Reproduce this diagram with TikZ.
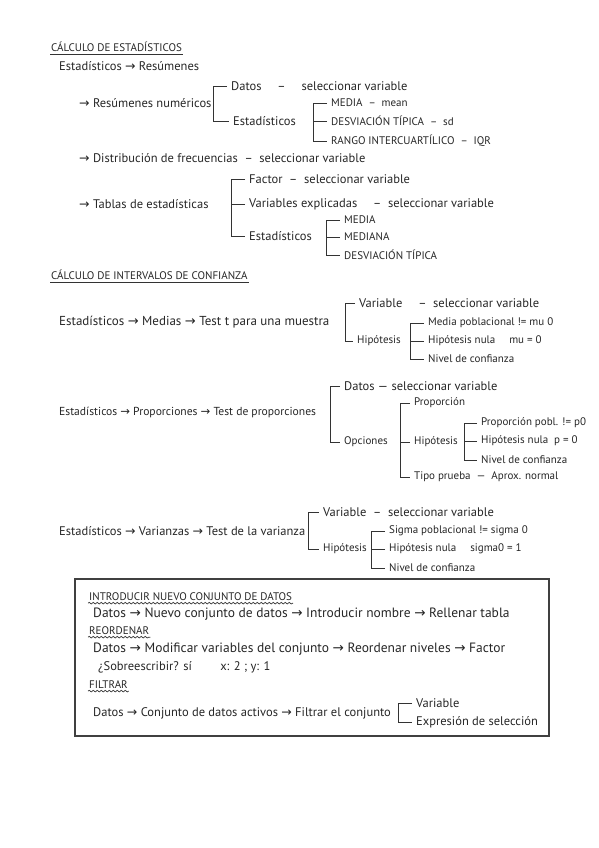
\documentclass[tikz,border=0pt]{standalone}
\usepackage{fontspec}
\setmainfont{PT Sans}
\newfontfamily\symfont{DejaVu Sans}
\usetikzlibrary{positioning, decorations.pathmorphing}

\newcommand{\flecha}{{\symfont →}\ }

\begin{document}
\begin{tikzpicture}[
  x=1pt, y=-1pt,
  txt/.style={
    anchor=west, inner sep=1pt,
    font=\fontsize{12.5}{14}\selectfont, text=black!85
  },
  grande/.style={txt, font=\fontsize{13.5}{15}\selectfont},
  chico/.style={txt, font=\fontsize{11}{13}\selectfont},
  titulo/.style={txt, font=\fontsize{11}{13}\selectfont},
  brk/.style={draw=black!80, line width=0.7pt},
  onda/.style={brk, decorate, decoration={snake, amplitude=0.8pt, segment length=4pt}},
  caja/.style={draw=black!75, line width=1.1pt}
]
  \useasboundingbox (0,0) rectangle (599,848);

  % calculo de estadisticos
  \node[titulo] (t1) at (50,47) {CÁLCULO DE ESTADÍSTICOS};
  \draw[brk] ([yshift=-1pt]t1.south west) -- ([yshift=-1pt]t1.south east);
  \node[txt] (er) at (58,66) {Estadísticos \flecha Resúmenes};

  \node[txt] (rn) at (78,103) {\flecha Resúmenes numéricos};
  \node[txt] (dt) at (230,86) {Datos \quad – \quad seleccionar variable};
  \node[txt] (es) at (232,121) {Estadísticos};
  \draw[brk] ([xshift=-3pt]dt.west) -- ++(-14pt,0) |- ([xshift=-3pt]es.west);

  \node[chico] (me) at (330,103) {MEDIA \ – \ mean};
  \node[chico] (dv) at (330,121) {DESVIACIÓN TÍPICA \ – \ sd};
  \node[chico] (ri) at (330,141) {RANGO INTERCUARTÍLICO \ – \ IQR};
  \draw[brk] ([xshift=-3pt]me.west) -- ++(-14pt,0) |- ([xshift=-3pt]ri.west);
  \draw[brk] ([xshift=-3pt]dv.west) -- ++(-14pt,0);

  \node[txt] (df) at (78,158) {\flecha Distribución de frecuencias \ – \ seleccionar variable};

  \node[txt] (tb) at (78,204) {\flecha Tablas de estadísticas};
  \node[txt] (fa) at (248,179) {Factor \ – \ seleccionar variable};
  \node[txt] (ve) at (248,204) {Variables explicadas \quad – \ seleccionar variable};
  \node[txt] (e2) at (248,236) {Estadísticos};
  \draw[brk] ([xshift=-3pt]fa.west) -- ++(-14pt,0) |- ([xshift=-3pt]e2.west);
  \draw[brk] ([xshift=-3pt]ve.west) -- ++(-14pt,0);

  \node[chico] (m2) at (343,220) {MEDIA};
  \node[chico] (mn) at (343,237) {MEDIANA};
  \node[chico] (d2) at (343,255) {DESVIACIÓN TÍPICA};
  \draw[brk] ([xshift=-3pt]m2.west) -- ++(-14pt,0) |- ([xshift=-3pt]d2.west);
  \draw[brk] ([xshift=-3pt]mn.west) -- ++(-14pt,0);

  % intervalos de confianza
  \node[titulo] (t2) at (50,275) {CÁLCULO DE INTERVALOS DE CONFIANZA};
  \draw[brk] ([yshift=-1pt]t2.south west) -- ([yshift=-1pt]t2.south east);

  \node[txt, font=\fontsize{13}{15}\selectfont] (mt) at (58,322) {Estadísticos \flecha Medias \flecha Test t para una muestra};
  \node[txt] (va) at (358,303) {Variable \quad – \ seleccionar variable};
  \node[chico] (hp) at (356,341) {Hipótesis};
  \draw[brk] ([xshift=-3pt]va.west) -- ++(-10pt,0) |- ([xshift=-3pt]hp.west);

  \node[chico] (mp) at (427,323) {Media poblacional != mu 0};
  \node[chico] (hn) at (427,341) {Hipótesis nula \quad mu = 0};
  \node[chico] (nc) at (427,359) {Nivel de confianza};
  \draw[brk] ([xshift=-3pt]mp.west) -- ++(-14pt,0) |- ([xshift=-3pt]nc.west);
  \draw[brk] ([xshift=-3pt]hn.west) -- ++(-14pt,0);

  \node[txt, font=\fontsize{11.6}{13}\selectfont] (pt) at (58,412) {Estadísticos \flecha Proporciones \flecha Test de proporciones};
  \node[txt] (pd) at (343,386) {Datos — seleccionar variable};
  \node[chico] (op) at (343,442) {Opciones};
  \draw[brk] ([xshift=-3pt]pd.west) -- ++(-10pt,0) |- ([xshift=-3pt]op.west);

  \node[chico] (pp) at (413,403) {Proporción};
  \node[chico] (ph) at (413,442) {Hipótesis};
  \node[chico] (tp) at (413,477) {Tipo prueba \ — \ Aprox. normal};
  \draw[brk] ([xshift=-3pt]pp.west) -- ++(-10pt,0) |- ([xshift=-3pt]tp.west);
  \draw[brk] ([xshift=-3pt]ph.west) -- ++(-10pt,0);

  \node[chico] (p1) at (480,423) {Proporción pobl. != p0};
  \node[chico] (p2) at (480,441) {Hipótesis nula \ p = 0};
  \node[chico] (p3) at (480,460) {Nivel de confianza};
  \draw[brk] ([xshift=-3pt]p1.west) -- ++(-13pt,0) |- ([xshift=-3pt]p3.west);
  \draw[brk] ([xshift=-3pt]p2.west) -- ++(-13pt,0);

  \node[txt] (vt) at (58,531) {Estadísticos \flecha Varianzas \flecha Test de la varianza};
  \node[txt] (vv) at (322,512) {Variable \ – \ seleccionar variable};
  \node[chico] (vh) at (322,549) {Hipótesis};
  \draw[brk] ([xshift=-3pt]vv.west) -- ++(-11pt,0) |- ([xshift=-3pt]vh.west);

  \node[chico] (s1) at (388,531) {Sigma poblacional != sigma 0};
  \node[chico] (s2) at (388,549) {Hipótesis nula \quad sigma0 = 1};
  \node[chico] (s3) at (388,568) {Nivel de confianza};
  \draw[brk] ([xshift=-3pt]s1.west) -- ++(-14pt,0) |- ([xshift=-3pt]s3.west);
  \draw[brk] ([xshift=-3pt]s2.west) -- ++(-14pt,0);

  % recuadro de datos
  \draw[caja] (75,579) rectangle (549,736);

  \node[titulo] (t3) at (88,597) {INTRODUCIR NUEVO CONJUNTO DE DATOS};
  \draw[onda] ([yshift=-1pt]t3.south west) -- ([yshift=-1pt]t3.south east);
  \node[grande] (b1) at (92,614) {Datos \flecha Nuevo conjunto de datos \flecha Introducir nombre \flecha Rellenar tabla};

  \node[titulo] (t4) at (88,631) {REORDENAR};
  \draw[onda] ([yshift=-1pt]t4.south west) -- ([yshift=-1pt]t4.south east);
  \node[grande] (b2) at (92,649) {Datos \flecha Modificar variables del conjunto \flecha Reordenar niveles \flecha Factor};
  \node[txt] (b3) at (97,667) {¿Sobreescribir? sí \qquad x: 2 ; y: 1};

  \node[titulo] (t5) at (88,685) {FILTRAR};
  \draw[onda] ([yshift=-1pt]t5.south west) -- ([yshift=-1pt]t5.south east);
  \node[txt] (b4) at (92,713) {Datos \flecha Conjunto de datos activos \flecha Filtrar el conjunto};
  \node[txt] (fv) at (415,703) {Variable};
  \node[txt] (fe) at (415,722) {Expresión de selección};
  \draw[brk] ([xshift=-3pt]fv.west) -- ++(-14pt,0) |- ([xshift=-3pt]fe.west);
\end{tikzpicture}
\end{document}
